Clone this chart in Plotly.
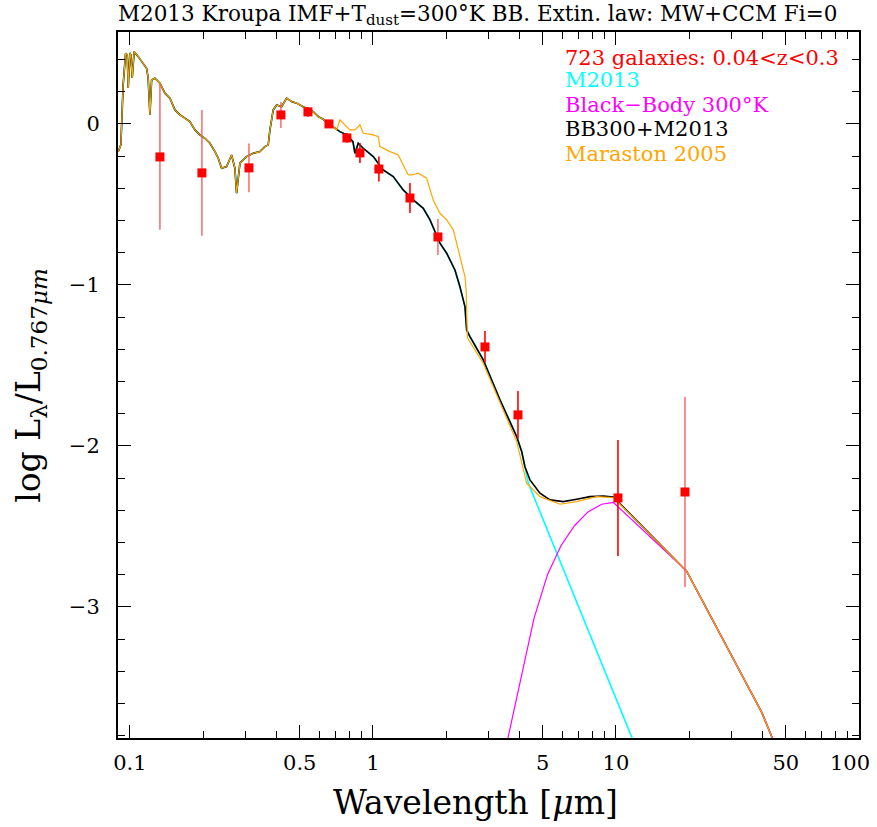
import plotly.graph_objects as go

# ---- Model: BB300 + M2013 (black) ----
bbm_wl = [0.0895, 0.0918, 0.0938, 0.0960, 0.0975, 0.0984, 0.100, 0.1009, 0.1022, 0.1041,
          0.1082, 0.1134, 0.1171, 0.1189, 0.1209, 0.1228, 0.1267, 0.1329, 0.1393, 0.1461,
          0.1532, 0.1606, 0.1684, 0.1765, 0.1851, 0.1941, 0.2035, 0.2134, 0.2238, 0.2309,
          0.2384, 0.2500, 0.2621, 0.2704, 0.2748, 0.2836, 0.3020, 0.3217, 0.3427, 0.3594,
          0.3708, 0.3768, 0.3888, 0.4016, 0.4209, 0.4414, 0.4628, 0.4853, 0.5165, 0.5417,
          0.5679, 0.5955, 0.6244, 0.6547, 0.6864, 0.7313, 0.7795, 0.8274, 0.8432, 0.8700,
          0.9122, 1.003, 1.102, 1.212, 1.332, 1.465, 1.611, 1.717, 1.887, 2.011,
          2.175, 2.280, 2.391, 2.430, 2.507, 2.844, 3.332, 3.903, 4.093, 4.222,
          4.427, 4.867, 5.352, 6.069, 6.891, 7.816, 8.866, 9.757, 19.54, 39.89, 50.0]
bbm_val = [-0.172, -0.130, 0.242, 0.439, 0.429, 0.224, 0.441, 0.429, 0.286, 0.449,
           0.418, 0.377, 0.346, 0.284, 0.056, 0.273, 0.284, 0.253, 0.191, 0.160,
           0.087, 0.056, 0.035, 0.014, -0.037, -0.068, -0.089, -0.120, -0.172, -0.213,
           -0.275, -0.265, -0.193, -0.275, -0.430, -0.244, -0.203, -0.182, -0.172, -0.141,
           -0.130, -0.037, 0.087, 0.118, 0.107, 0.160, 0.139, 0.129, 0.107, 0.091,
           0.076, 0.045, 0.029, 0.004, -0.017, -0.048, -0.068, -0.110, -0.182, -0.120,
           -0.151, -0.203, -0.286, -0.327, -0.410, -0.472, -0.524, -0.596, -0.741, -0.803,
           -0.907, -1.011, -1.135, -1.280, -1.321, -1.466, -1.714, -1.942, -2.035, -2.129,
           -2.211, -2.294, -2.335, -2.346, -2.331, -2.315, -2.311, -2.317, -2.778, -3.658, -4.020]

# ---- M2013 alone (cyan): tail beyond the shared part ----
m13_tail_wl = [4.36, 11.83, 14.0]
m13_tail_val = [-2.232, -3.839, -4.110]

# ---- Black body 300K (magenta) ----
bb_wl = [3.39, 3.56, 4.05, 4.60, 5.23, 5.94, 6.76, 7.67, 8.73, 9.76, 19.5, 39.89, 50.0]
bb_val = [-3.99, -3.839, -3.449, -3.071, -2.798, -2.620, -2.494, -2.410, -2.362, -2.351,
          -2.776, -3.658, -4.020]

# ---- Maraston 2005 (orange): part beyond the shared UV part ----
mar_tail_wl = [0.6653, 0.7090, 0.7313, 0.7795, 0.8040, 0.8432, 0.8843, 0.9122, 1.003, 1.051,
               1.069, 1.175, 1.271, 1.332, 1.397, 1.443, 1.536, 1.663, 1.717, 1.770,
               1.887, 2.011, 2.141, 2.244, 2.317, 2.391, 2.418, 2.430, 2.448, 2.844,
               3.903, 4.291, 4.867, 5.884, 6.891, 8.328, 9.757, 19.54, 39.89, 50.0]
mar_tail_val = [0.004, -0.037, 0.025, -0.017, -0.037, -0.037, -0.006, -0.058, -0.068, -0.079,
                -0.141, -0.172, -0.193, -0.255, -0.317, -0.317, -0.306, -0.337, -0.410, -0.472,
                -0.555, -0.596, -0.658, -0.783, -0.865, -0.948, -1.031, -1.217, -1.329, -1.486,
                -1.973, -2.232, -2.315, -2.362, -2.346, -2.315, -2.321, -2.778, -3.658, -4.020]

# ---- Observed galaxies (red) ----
obs_wl = [0.1329, 0.1978, 0.3089, 0.4181, 0.5402, 0.6593, 0.7816, 0.8843, 1.058, 1.420,
          1.851, 2.891, 3.952, 10.19, 19.23]
obs_val = [-0.205, -0.304, -0.273, 0.056, 0.075, 0.0, -0.087, -0.180, -0.280, -0.460,
           -0.702, -1.385, -1.807, -2.323, -2.286]
obs_err = [0.453, 0.391, 0.152, 0.081, 0.03, 0.02, 0.03, 0.062, 0.078, 0.093,
           0.112, 0.099, 0.149, 0.36, 0.59]
obs_light = [True, True, True, True, False, False, False, False, False, False,
             True, False, False, False, True]

x_major = [0.1, 0.5, 1, 5, 10, 50, 100]
x_major_text = ["0.1", "0.5", "1", "5", "10", "50", ""]
x_edge_label = "100"
x_minor = [0.09, 0.2, 0.3, 0.4, 0.6, 0.7, 0.8, 0.9, 2, 3, 4, 6, 7, 8, 9,
           20, 30, 40, 60, 70, 80, 90]
y_major = [0, -1, -2, -3]
y_major_text = ["0", "\u22121", "\u22122", "\u22123"]

legend_items = ["723 galaxies: 0.04<z<0.3", "M2013", "Black\u2212Body 300\u00b0K",
                "BB300+M2013", "Maraston 2005"]
legend_colors = ["#ff0000", "#00ffff", "#ff00ff", "#000000", "#ffa500"]

FONT = "DejaVu Serif"

n_shared_cyan = sum(1 for w in bbm_wl if w <= 4.093)
cyan_wl = bbm_wl[:n_shared_cyan] + m13_tail_wl
cyan_val = bbm_val[:n_shared_cyan] + m13_tail_val
n_shared_mar = sum(1 for w in bbm_wl if w <= 0.6547)
mar_wl = bbm_wl[:n_shared_mar] + mar_tail_wl
mar_val = bbm_val[:n_shared_mar] + mar_tail_val

fig = go.Figure()
fig.add_trace(go.Scatter(x=cyan_wl, y=cyan_val, mode="lines",
                         line=dict(color="#00ffff", width=1.6), showlegend=False))
fig.add_trace(go.Scatter(x=bbm_wl, y=bbm_val, mode="lines",
                         line=dict(color="#000000", width=1.6), showlegend=False))
fig.add_trace(go.Scatter(x=bb_wl, y=bb_val, mode="lines",
                         line=dict(color="#ff00ff", width=1.2), showlegend=False))
fig.add_trace(go.Scatter(x=mar_wl, y=mar_val, mode="lines",
                         line=dict(color="#ffa500", width=1.2), showlegend=False))

for light in (True, False):
    xs = [w for w, l in zip(obs_wl, obs_light) if l == light]
    ys = [v for v, l in zip(obs_val, obs_light) if l == light]
    es = [e for e, l in zip(obs_err, obs_light) if l == light]
    ecol = "rgba(245,90,90,0.85)" if light else "#ff0000"
    fig.add_trace(go.Scatter(
        x=xs, y=ys, mode="markers",
        marker=dict(symbol="square", size=9, color="#ff0000"),
        error_y=dict(type="data", array=es, visible=True, color=ecol,
                     thickness=1.6, width=0),
        showlegend=False))

axis_common = dict(showline=True, linecolor="black", linewidth=2, mirror="allticks",
                   ticks="inside", ticklen=13, tickwidth=1, tickcolor="black",
                   showgrid=False, zeroline=False, ticklabeloverflow="allow",
                   automargin=False,
                   tickfont=dict(family=FONT, size=21, color="black"))

fig.update_xaxes(type="log", range=[-1.049, 2.0], tickmode="array",
                 tickvals=x_major, ticktext=x_major_text, ticklabelstandoff=5,
                 minor=dict(tickmode="array", tickvals=x_minor, ticks="inside",
                            ticklen=7, tickcolor="black", tickwidth=1),
                 **axis_common)
fig.update_yaxes(range=[-3.814, 0.571], tickmode="array",
                 tickvals=y_major, ticktext=y_major_text, ticklabelstandoff=12,
                 minor=dict(dtick=0.2, tick0=0, ticks="inside", ticklen=7,
                            tickcolor="black", tickwidth=1),
                 **axis_common)

annotations = []
ys_leg = [0.963, 0.932, 0.897, 0.863, 0.827]
for txt, col, yy in zip(legend_items, legend_colors, ys_leg):
    annotations.append(dict(text=txt, x=0.6, y=yy, xref="paper", yref="paper",
                            xanchor="left", yanchor="middle", showarrow=False,
                            font=dict(family=FONT, size=21, color=col)))
annotations.append(dict(text=x_edge_label, x=1.0, xshift=-9, y=-0.0354,
                        xref="paper", yref="paper", xanchor="center", yanchor="middle",
                        showarrow=False, font=dict(family=FONT, size=21, color="black")))
annotations.append(dict(text="log L<sub>\u03bb</sub>/L<sub>0.767<i>\u03bcm</i></sub>",
                        x=-0.119, y=0.5, xref="paper", yref="paper", textangle=-90,
                        xanchor="center", yanchor="middle", showarrow=False,
                        font=dict(family=FONT, size=33, color="black")))
annotations.append(dict(text="Wavelength [<i>\u03bc</i>m]",
                        x=0.483, y=-0.092, xref="paper", yref="paper",
                        xanchor="center", yanchor="middle", showarrow=False,
                        font=dict(family=FONT, size=33, color="black")))

fig.update_layout(
    width=877, height=827,
    margin=dict(l=118, r=18, t=32, b=89, autoexpand=False),
    paper_bgcolor="white", plot_bgcolor="white",
    title=dict(text="M2013 Kroupa IMF+T<sub>dust</sub>=300\u00b0K BB. Extin. law: MW+CCM Fi=0",
               x=0.0, xref="paper", xanchor="left", y=0.984, yref="container",
               yanchor="middle", automargin=False,
               font=dict(family=FONT, size=21.5, color="black")),
    annotations=annotations,
    showlegend=False,
)

fig.write_html("out.html")
